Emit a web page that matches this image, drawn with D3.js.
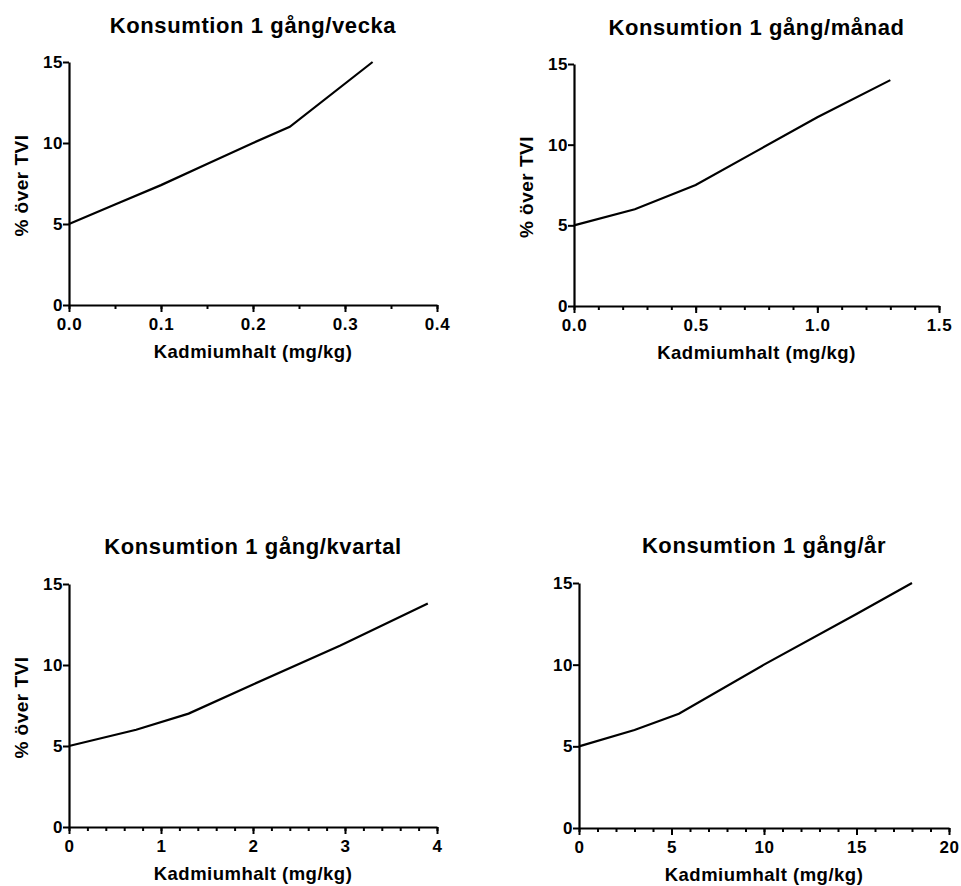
<!DOCTYPE html>
<html>
<head>
<meta charset="utf-8">
<script src="https://cdn.jsdelivr.net/npm/d3@7"></script>
<style>
  body { margin: 0; background: #fff; }
  text { font-family: "Liberation Sans", Arial, sans-serif; font-weight: bold; fill: #000; }
</style>
</head>
<body>
<svg id="chart" width="961" height="886"></svg>
<script>
// titles
const titles = [
  "Konsumtion 1 gång/vecka",
  "Konsumtion 1 gång/månad",
  "Konsumtion 1 gång/kvartal",
  "Konsumtion 1 gång/år",
];
const xLabel = "Kadmiumhalt (mg/kg)";
const yLabel = "% över TVI";

// x values (mg/kg) and y values (% over TVI) for each panel
const veckaX = [0, 0.05, 0.1, 0.15, 0.2, 0.24, 0.33];
const veckaY = [5, 6.2, 7.4, 8.7, 10, 11, 15];
const manadX = [0, 0.25, 0.5, 0.75, 1.0, 1.3];
const manadY = [5, 6, 7.5, 9.6, 11.7, 14];
const kvartalX = [0, 0.73, 1.3, 2, 2.95, 3.9];
const kvartalY = [5, 6, 7, 8.8, 11.2, 13.8];
const arX = [0, 3, 5.4, 10, 15, 18];
const arY = [5, 6, 7, 10, 13.1, 15];

// axis ticks
const yTicks = [0, 5, 10, 15];
const veckaTicks = [0, 0.1, 0.2, 0.3, 0.4];
const manadTicks = [0, 0.5, 1.0, 1.5];
const kvartalTicks = [0, 1, 2, 3, 4];
const arTicks = [0, 5, 10, 15, 20];

const panels = [
  { title: titles[0], xs: veckaX, ys: veckaY, ticks: veckaTicks, minor: 0.05, fmt: d3.format(".1f"),
    box: { l: 69, r: 437, t: 62, b: 305 }, titleY: 33, yTitle: true },
  { title: titles[1], xs: manadX, ys: manadY, ticks: manadTicks, minor: 0.1, fmt: d3.format(".1f"),
    box: { l: 574, r: 939, t: 64, b: 306 }, titleY: 35, yTitle: true },
  { title: titles[2], xs: kvartalX, ys: kvartalY, ticks: kvartalTicks, minor: 0.2, fmt: d3.format("d"),
    box: { l: 69, r: 437, t: 584, b: 827 }, titleY: 554, yTitle: true },
  { title: titles[3], xs: arX, ys: arY, ticks: arTicks, minor: 1, fmt: d3.format("d"),
    box: { l: 579, r: 949, t: 583, b: 828 }, titleY: 553, yTitle: false },
];

const svg = d3.select("#chart");

panels.forEach((p) => {
  const b = p.box;
  const xMax = p.ticks[p.ticks.length - 1];
  const x = d3.scaleLinear().domain([0, xMax]).range([b.l, b.r]);
  const y = d3.scaleLinear().domain([0, 15]).range([b.b, b.t]);
  const g = svg.append("g");

  // minor x ticks
  const minorVals = d3.range(0, xMax + p.minor / 2, p.minor);
  g.append("g")
    .attr("transform", `translate(0,${b.b})`)
    .call(d3.axisBottom(x).tickValues(minorVals).tickSize(4).tickFormat(""))
    .call((a) => a.select(".domain").remove())
    .call((a) => a.selectAll("line").attr("stroke", "#000").attr("stroke-width", 2));

  // major x axis
  g.append("g")
    .attr("transform", `translate(0,${b.b})`)
    .call(d3.axisBottom(x).tickValues(p.ticks).tickSize(7).tickSizeOuter(0).tickFormat(p.fmt))
    .call((a) => a.select(".domain").attr("stroke", "#000").attr("stroke-width", 2.2))
    .call((a) => a.selectAll("line").attr("stroke", "#000").attr("stroke-width", 2))
    .call((a) => a.selectAll("text").attr("y", 13).attr("font-size", 17).attr("letter-spacing", 0.6));

  // y axis
  g.append("g")
    .attr("transform", `translate(${b.l},0)`)
    .call(d3.axisLeft(y).tickValues(yTicks).tickSize(6).tickSizeOuter(0).tickFormat(d3.format("d")))
    .call((a) => a.select(".domain").attr("stroke", "#000").attr("stroke-width", 2.2))
    .call((a) => a.selectAll("line").attr("stroke", "#000").attr("stroke-width", 2))
    .call((a) => a.selectAll("text").attr("x", -6).attr("font-size", 17).attr("letter-spacing", 0.6));

  // data line
  const line = d3.line().x((d) => x(d[0])).y((d) => y(d[1]));
  g.append("path")
    .datum(d3.zip(p.xs, p.ys))
    .attr("d", line)
    .attr("fill", "none")
    .attr("stroke", "#000")
    .attr("stroke-width", 2.2);

  // title
  g.append("text")
    .attr("x", (b.l + b.r) / 2)
    .attr("y", p.titleY)
    .attr("text-anchor", "middle")
    .attr("font-size", 22)
    .attr("letter-spacing", 0.6)
    .text(p.title);

  // x axis title
  g.append("text")
    .attr("x", (b.l + b.r) / 2)
    .attr("y", b.b + 53)
    .attr("text-anchor", "middle")
    .attr("font-size", 18.5)
    .attr("letter-spacing", 0.5)
    .text(xLabel);

  if (p.yTitle) {
    g.append("text")
      .attr("transform", `translate(${b.l - 41},${(b.t + b.b) / 2 + 2}) rotate(-90)`)
      .attr("text-anchor", "middle")
      .attr("font-size", 19)
      .attr("letter-spacing", 0.5)
      .text(yLabel);
  }
});
</script>
</body>
</html>
